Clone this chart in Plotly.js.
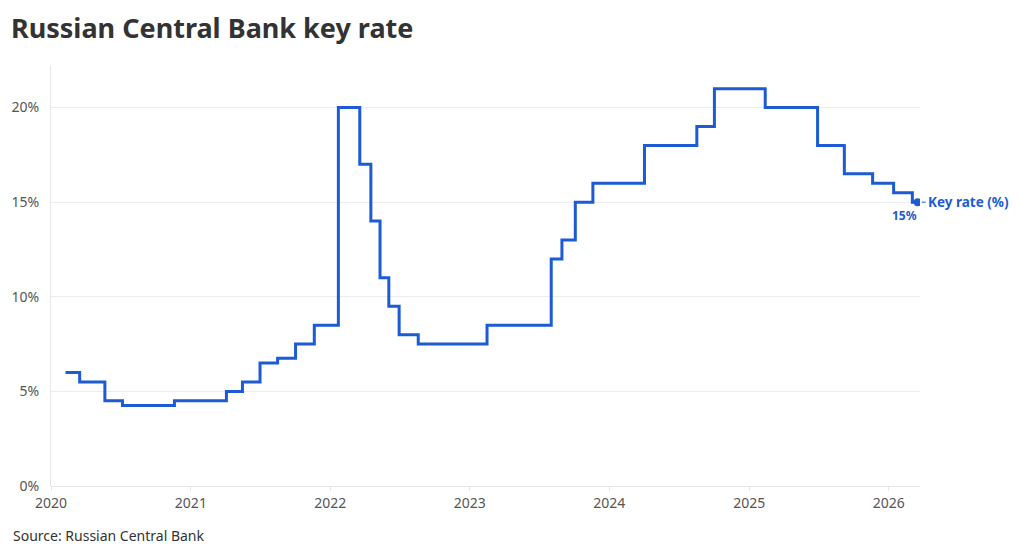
<!DOCTYPE html>
<html>
<head>
<meta charset="utf-8">
<script src="https://cdn.plot.ly/plotly-3.1.0.min.js"></script>
<style>
  html, body { margin: 0; padding: 0; background: #fff; }
  #chart { width: 1020px; height: 555px; }
</style>
</head>
<body>
<div id="chart"></div>
<script>
// dates the key rate changed, last one is the end point
const dates = [
  "2020-02-08", "2020-03-16", "2020-05-21", "2020-07-06", "2020-11-19",
  "2021-04-04", "2021-05-16", "2021-07-01", "2021-08-16", "2021-10-02", "2021-11-20",
  "2022-01-22", "2022-03-19", "2022-04-17", "2022-05-11", "2022-06-03", "2022-06-30", "2022-08-19",
  "2023-02-15", "2023-08-02", "2023-08-30", "2023-10-04", "2023-11-19",
  "2024-04-02", "2024-08-17", "2024-10-02",
  "2025-02-12", "2025-06-29", "2025-09-07", "2025-11-20",
  "2026-01-14", "2026-03-04", "2026-03-18"
];
const keyRate = [
  6, 5.5, 4.5, 4.25, 4.5,
  5, 5.5, 6.5, 6.75, 7.5, 8.5,
  20, 17, 14, 11, 9.5, 8, 7.5,
  8.5, 12, 13, 15, 16,
  18, 19, 21,
  20, 18, 16.5, 16,
  15.5, 15, 15
];
const yTicks = [0, 5, 10, 15, 20];
const yTickLabels = ["0%", "5%", "10%", "15%", "20%"];
const xTicks = ["2020-01-01", "2021-01-01", "2022-01-01", "2023-01-01", "2024-01-01", "2025-01-01", "2026-01-01"];
const xTickLabels = ["2020", "2021", "2022", "2023", "2024", "2025", "2026"];

const blue = "#1c5bd4";
const font = "Noto Sans, sans-serif";
const lastX = dates[dates.length - 1];
const lastY = keyRate[keyRate.length - 1];

const line = {
  type: "scatter",
  mode: "lines",
  x: dates,
  y: keyRate,
  line: { shape: "hv", width: 3, color: blue },
  hoverinfo: "skip"
};
const endDot = {
  type: "scatter",
  mode: "markers",
  x: [lastX],
  y: [lastY],
  marker: { size: 8, color: blue },
  hoverinfo: "skip"
};

const layout = {
  width: 1020,
  height: 555,
  margin: { l: 51, r: 100, t: 65, b: 68.5 },
  paper_bgcolor: "#fff",
  plot_bgcolor: "#fff",
  showlegend: false,
  font: { family: font, color: "#555", size: 14 },
  title: {
    text: "Russian Central Bank key rate",
    font: { family: font, size: 27, color: "#333", weight: 700 },
    xref: "container", yref: "container",
    x: 11 / 1020, xanchor: "left",
    y: 1 - 29 / 555, yanchor: "middle"
  },
  xaxis: {
    type: "date",
    range: ["2020-01-01", "2026-03-24"],
    tickvals: xTicks,
    ticktext: xTickLabels,
    showgrid: false,
    zeroline: false,
    showline: false,
    ticks: "outside",
    ticklen: 4,
    tickcolor: "#e6e6e6",
    tickfont: { size: 14, color: "#555" }
  },
  yaxis: {
    range: [0, 22.25],
    tickvals: yTicks,
    ticktext: yTickLabels,
    showgrid: true,
    gridcolor: "#ececec",
    gridwidth: 1,
    zeroline: true,
    zerolinecolor: "#e6e6e6",
    zerolinewidth: 1,
    showline: true,
    linecolor: "#e6e6e6",
    linewidth: 1,
    ticks: "",
    ticklabelstandoff: 8,
    tickfont: { size: 14, color: "#555" }
  },
  annotations: [
    {
      x: lastX, y: lastY, xref: "x", yref: "y",
      text: "Key rate (%)",
      showarrow: true, arrowhead: 0, arrowwidth: 1, arrowcolor: blue,
      ax: 8, ay: 0, standoff: 4,
      xanchor: "left", yanchor: "middle",
      font: { family: font, size: 13.5, color: blue, weight: 700 }
    },
    {
      x: lastX, y: lastY, xref: "x", yref: "y",
      text: "15%",
      showarrow: false,
      xanchor: "right", yanchor: "middle",
      xshift: 1, yshift: -13,
      font: { family: font, size: 12, color: blue, weight: 700 }
    },
    {
      x: (11 - 51) / 869, y: (486.5 - 536) / 421.5,
      xref: "paper", yref: "paper",
      text: "Source: Russian Central Bank",
      showarrow: false,
      xanchor: "left", yanchor: "middle",
      font: { family: font, size: 14, color: "#333" }
    }
  ]
};

Plotly.newPlot("chart", [line, endDot], layout, { displayModeBar: false, staticPlot: true });
</script>
</body>
</html>
